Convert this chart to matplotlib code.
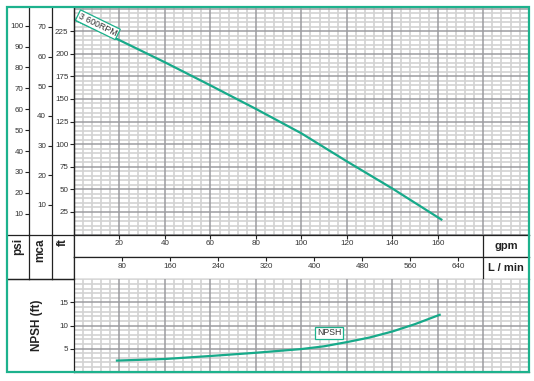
import matplotlib
matplotlib.use("Agg")
import matplotlib.pyplot as plt
from matplotlib.patches import Rectangle
from matplotlib.ticker import MultipleLocator

plt.rcParams['font.family'] = ['Liberation Sans', 'DejaVu Sans']

# --- values ---
flow_gpm = [0, 20, 40, 60, 80, 100, 120, 140, 162]
head_ft = [238, 215, 190.5, 165, 139, 112, 81, 51, 16]

npsh_gpm = [18.4, 40, 60, 80, 100, 110, 120, 130, 140, 150, 161.3]
npsh_ft = [2.4, 2.75, 3.4, 4.1, 4.9, 5.5, 6.4, 7.4, 8.7, 10.3, 12.4]

gpm_ticks = [20, 40, 60, 80, 100, 120, 140, 160]
lpm_ticks = [80, 160, 240, 320, 400, 480, 560, 640]
ft_ticks = [25, 50, 75, 100, 125, 150, 175, 200, 225]
psi_ticks = [10, 20, 30, 40, 50, 60, 70, 80, 90, 100]
mca_ticks = [10, 20, 30, 40, 50, 60, 70]
npsh_ticks = [5, 10, 15]

curve_label = '3 600RPM'
npsh_label = 'NPSH'

# unit conversions / ranges
GPM_MAX = 200
FT_MAX = 252
NPSH_MAX = 20
FT_PER_PSI = 2.31
FT_PER_M = 3.281
LPM_PER_GPM = 3.785

W, H = 534, 381
GREEN = '#1db28d'
CURVE = '#17aa8a'
INK = '#222222'
TXT = '#333333'
MAJ = '#9c9ca0'
MIN = '#d2d2d2'
TICK_FS = 5.8

# layout in pixels
X_L, X_PSI, X_MCA, X_PLOT, X_R = 6.7, 29.3, 51.7, 74, 528.7
Y_T, Y_MID, Y_ROW, Y_BOT, Y_B = 6.7, 234.6, 257.3, 279.3, 371.7

fig = plt.figure(figsize=(W / 100, H / 100), dpi=100)


def px_axes(x0, y0, x1, y1, **kw):
    """Add axes using pixel coords measured from the top-left corner."""
    return fig.add_axes([x0 / W, 1 - y1 / H, (x1 - x0) / W, (y1 - y0) / H], **kw)


def graph_paper(x0, y0, x1, y1, ymax, ymajor, yminor):
    """Minor grid underneath, major grid on an overlay axes on top."""
    base = px_axes(x0, y0, x1, y1)
    base.set_xlim(0, GPM_MAX)
    base.set_ylim(0, ymax)
    base.xaxis.set_major_locator(MultipleLocator(20))
    base.xaxis.set_minor_locator(MultipleLocator(4))
    base.yaxis.set_major_locator(MultipleLocator(ymajor))
    base.yaxis.set_minor_locator(MultipleLocator(yminor))
    base.grid(which='minor', color=MIN, lw=1.2)
    base.tick_params(which='both', length=0, labelbottom=False, labelleft=False)
    for s in base.spines.values():
        s.set_visible(False)

    top = px_axes(x0, y0, x1, y1, sharex=base, sharey=base)
    top.patch.set_visible(False)
    top.grid(which='major', color=MAJ, lw=1.1)
    top.tick_params(which='both', length=0, labelbottom=False, labelleft=False)
    for s in ['top', 'right']:
        top.spines[s].set_visible(False)
    for s in ['left', 'bottom']:
        top.spines[s].set_color(INK)
        top.spines[s].set_linewidth(0.9)
    return top


# main head chart
ax = graph_paper(X_PLOT, Y_T, X_R, Y_MID, FT_MAX, 25, 5)
ax.plot(flow_gpm, head_ft, color=CURVE, lw=1.6, solid_capstyle='butt', zorder=3)
ax.text(10.5, 232, curve_label, rotation=-26, ha='center', va='center',
        fontsize=6.3, color=TXT, zorder=4,
        bbox=dict(boxstyle='square,pad=0.15', fc='white', ec=GREEN, lw=0.9))


# left pressure scales
def scale_column(x0, x1, ymax, ticks):
    col = px_axes(x0, Y_T, x1, Y_MID)
    col.set_xlim(0, 1)
    col.set_ylim(0, ymax)
    col.set_xticks([])
    col.set_yticks(ticks)
    col.yaxis.tick_right()
    col.tick_params(axis='y', direction='in', length=2.6, width=0.8, color=INK,
                    pad=-4.0, labelsize=TICK_FS, labelcolor=TXT)
    for lab in col.get_yticklabels():
        lab.set_ha('right')
    for s in ['left', 'top', 'bottom']:
        col.spines[s].set_visible(False)
    col.spines['right'].set_color(INK)
    col.spines['right'].set_linewidth(0.9)
    col.patch.set_visible(False)
    return col


scale_column(X_L, X_PSI, FT_MAX / FT_PER_PSI, psi_ticks)
scale_column(X_PSI, X_MCA, FT_MAX / FT_PER_M, mca_ticks)
scale_column(X_MCA, X_PLOT, FT_MAX, ft_ticks)

# unit cells under the scales
for (x0, x1, name) in [(X_L, X_PSI, 'psi'), (X_PSI, X_MCA, 'mca'), (X_MCA, X_PLOT, 'ft')]:
    cell = px_axes(x0, Y_MID, x1, Y_BOT)
    cell.set_xticks([])
    cell.set_yticks([])
    cell.spines['left'].set_visible(False)
    for s in ['right', 'top', 'bottom']:
        cell.spines[s].set_color(INK)
        cell.spines[s].set_linewidth(0.9)
    cell.patch.set_visible(False)
    cell.text(0.5, 0.92, name, transform=cell.transAxes, rotation=90,
              ha='center', va='top', fontsize=8.5, fontweight='bold', color=INK)


# flow scales band
def flow_row(y0, y1, xmax, ticks, unit, box_x, bottom_color):
    row = px_axes(X_PLOT, y0, X_R, y1)
    row.set_xlim(0, xmax)
    row.set_ylim(0, 1)
    row.set_yticks([])
    row.set_xticks(ticks)
    row.xaxis.tick_top()
    row.tick_params(axis='x', direction='in', length=2.6, width=0.8, color=INK,
                    pad=-4.0, labelsize=TICK_FS, labelcolor=TXT)
    for lab in row.get_xticklabels():
        lab.set_va('top')
    row.spines['right'].set_visible(False)
    row.spines['top'].set_color(INK)
    row.spines['left'].set_color(INK)
    row.spines['bottom'].set_color(bottom_color)
    for s in row.spines.values():
        s.set_linewidth(0.9)
    row.axvline(box_x, color=INK, lw=0.9)
    row.text((box_x + xmax) / 2, 0.5, unit, transform=row.get_xaxis_transform(),
             ha='center', va='center', fontsize=8, fontweight='bold', color=INK)
    return row


flow_row(Y_MID, Y_ROW, GPM_MAX, gpm_ticks, 'gpm', 180, '#555555')
flow_row(Y_ROW, Y_BOT, GPM_MAX * LPM_PER_GPM, lpm_ticks, 'L / min',
         180 * LPM_PER_GPM, INK)

# NPSH chart
axn = graph_paper(X_PLOT, Y_BOT, X_R, Y_B, NPSH_MAX, 5, 1)
axn.set_yticks(npsh_ticks)
axn.yaxis.set_minor_locator(MultipleLocator(1))
axn.tick_params(axis='y', which='major', length=2.9, width=0.8, color=INK,
                pad=1.2, labelleft=True, labelsize=TICK_FS, labelcolor=TXT)
axn.plot(npsh_gpm, npsh_ft, color=CURVE, lw=1.6, solid_capstyle='butt', zorder=3)
axn.text(112.3, 8.4, npsh_label, ha='center', va='center', fontsize=6.3,
         color=TXT, zorder=4,
         bbox=dict(boxstyle='square,pad=0.2', fc='white', ec=GREEN, lw=0.9))

cell = px_axes(X_L, Y_BOT, X_PLOT, Y_B)
cell.set_xticks([])
cell.set_yticks([])
cell.spines['left'].set_visible(False)
cell.spines['bottom'].set_visible(False)
cell.spines['right'].set_visible(False)
cell.spines['top'].set_color(INK)
cell.spines['top'].set_linewidth(0.9)
cell.patch.set_visible(False)
cell.text(0.45, 0.5, 'NPSH (ft)', transform=cell.transAxes, rotation=90,
          ha='center', va='center', fontsize=8.5, fontweight='bold', color=INK)

# green frame around everything
frame = Rectangle((X_L / W, 1 - Y_B / H), (X_R - X_L) / W, (Y_B - Y_T) / H,
                  transform=fig.transFigure, fill=False, ec=GREEN, lw=1.6, zorder=20)
fig.add_artist(frame)

fig.savefig('out.png', dpi=100)
